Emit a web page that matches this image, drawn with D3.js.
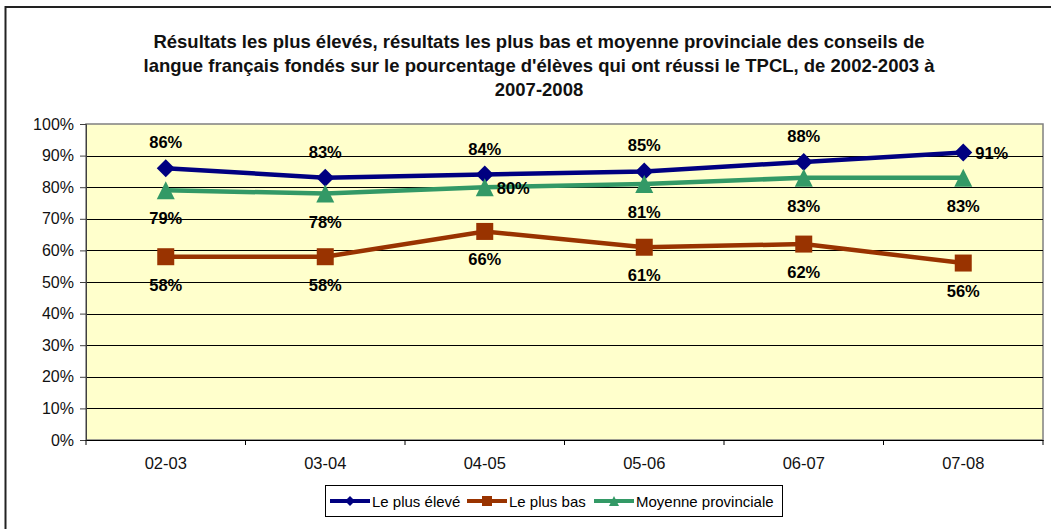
<!DOCTYPE html>
<html>
<head>
<meta charset="utf-8">
<script src="https://cdn.jsdelivr.net/npm/d3@7"></script>
<style>
  body { margin: 0; background: #fff; }
  text { font-family: Arial, "Liberation Sans", sans-serif; }
</style>
</head>
<body>
<svg id="grafico"></svg>
<script>
// Données
var categories = ['02-03', '03-04', '04-05', '05-06', '06-07', '07-08'];
var plusEleve = [86, 83, 84, 85, 88, 91];
var plusBas = [58, 58, 66, 61, 62, 56];
var moyenne = [79, 78, 80, 81, 83, 83];
var graduations = [0, 10, 20, 30, 40, 50, 60, 70, 80, 90, 100];
// position de l'étiquette de chaque point
var posEleve = ['haut', 'haut', 'haut', 'haut', 'haut', 'droite'];
var posBas = ['bas', 'bas', 'bas', 'bas', 'bas', 'bas'];
var posMoyenne = ['bas', 'bas', 'droite', 'bas', 'bas', 'bas'];

var titre = [
  'Résultats les plus élevés, résultats les plus bas et moyenne provinciale des conseils de',
  'langue français fondés sur le pourcentage d\'élèves qui ont réussi le TPCL, de 2002-2003 à',
  '2007-2008'
];

// Marques (losange, carré, triangle) dessinées pour une taille donnée
function losange(t) { var r = t / 2; return 'M0,' + (-r) + 'L' + r + ',0L0,' + r + 'L' + (-r) + ',0Z'; }
function carre(t) { var r = t / 2; return 'M' + (-r) + ',' + (-r) + 'H' + r + 'V' + r + 'H' + (-r) + 'Z'; }
function triangle(t) { var r = t / 2; return 'M0,' + (-r) + 'L' + r + ',' + r + 'H' + (-r) + 'Z'; }

var series = [
  { nom: 'Le plus élevé', valeurs: plusEleve, pos: posEleve, couleur: '#000080', marque: losange, taille: 18 },
  { nom: 'Le plus bas', valeurs: plusBas, pos: posBas, couleur: '#993300', marque: carre, taille: 17 },
  { nom: 'Moyenne provinciale', valeurs: moyenne, pos: posMoyenne, couleur: '#339966', marque: triangle, taille: 18 }
];

var largeur = 1051, hauteur = 529;
var svg = d3.select('#grafico').attr('width', largeur).attr('height', hauteur);

// Cadre extérieur
svg.append('rect')
   .attr('x', 5.5).attr('y', 7)
   .attr('width', 1100).attr('height', 600)
   .attr('fill', 'none').attr('stroke', '#222').attr('stroke-width', 2);

// Titre
svg.append('clipPath').attr('id', 'clipTitre')
   .append('rect').attr('x', 0).attr('y', 0).attr('width', 946).attr('height', 110);
svg.append('g').attr('clip-path', 'url(#clipTitre)')
   .selectAll('text').data(titre).enter()
   .append('text')
   .attr('x', 539)
   .attr('y', (d, i) => 48 + i * 24)
   .attr('text-anchor', 'middle')
   .style('font-size', '18.5px')
   .style('font-weight', 'bold')
   .attr('fill', '#111')
   .text(d => d);

// Zone de tracé
var margem = { gauche: 86, droite: 8, haut: 124, bas: 89 };
var lp = largeur - margem.gauche - margem.droite;
var hp = hauteur - margem.haut - margem.bas;

var trace = svg.append('g')
   .attr('transform', 'translate(' + margem.gauche + ',' + margem.haut + ')');

var x = d3.scaleBand().domain(categories).range([0, lp]);
var y = d3.scaleLinear().domain([0, 100]).range([hp, 0]);

trace.append('rect')
   .attr('width', lp).attr('height', hp)
   .attr('fill', '#FFFFCC').attr('stroke', '#808080').attr('stroke-width', 1.5);

// Lignes de grille
trace.append('g')
   .selectAll('line').data(graduations.slice(1, -1)).enter()
   .append('line')
   .attr('x1', 0).attr('x2', lp)
   .attr('y1', d => Math.round(y(d)) + 0.5).attr('y2', d => Math.round(y(d)) + 0.5)
   .attr('stroke', '#000').attr('stroke-width', 1);

// Axes
var axeY = d3.axisLeft(y).tickValues(graduations).tickSize(6).tickPadding(6).tickFormat(d => d + '%');
var gY = trace.append('g').call(axeY);
gY.select('.domain').attr('stroke', '#404040');
gY.selectAll('line').attr('stroke', '#404040');
gY.selectAll('text').style('font-size', '16px').attr('fill', '#111');

var axeX = d3.axisBottom(x).tickSize(0).tickPadding(17);
var gX = trace.append('g').attr('transform', 'translate(0,' + hp + ')').call(axeX);
gX.select('.domain').attr('stroke', '#000');
gX.selectAll('text').style('font-size', '16.5px').attr('fill', '#111');
// graduations entre les catégories
gX.selectAll('.sep').data(d3.range(categories.length + 1)).enter()
   .append('line').attr('class', 'sep')
   .attr('x1', i => i * x.step()).attr('x2', i => i * x.step())
   .attr('y1', 0).attr('y2', 5)
   .attr('stroke', '#000');

var cx = d => x(d) + x.bandwidth() / 2;

// Séries
series.forEach(function(s) {
  var points = categories.map((c, i) => ({ c: c, v: s.valeurs[i], pos: s.pos[i] }));
  trace.append('path')
     .datum(points)
     .attr('fill', 'none')
     .attr('stroke', s.couleur)
     .attr('stroke-width', 4.5)
     .attr('d', d3.line().x(d => cx(d.c)).y(d => y(d.v)));
  trace.selectAll(null).data(points).enter()
     .append('path')
     .attr('transform', d => 'translate(' + cx(d.c) + ',' + y(d.v) + ')')
     .attr('d', s.marque(s.taille))
     .attr('fill', s.couleur);
});

// Étiquettes
series.forEach(function(s) {
  var points = categories.map((c, i) => ({ c: c, v: s.valeurs[i], pos: s.pos[i] }));
  trace.selectAll(null).data(points).enter()
     .append('text')
     .attr('x', d => d.pos === 'droite' ? cx(d.c) + 12 : cx(d.c))
     .attr('y', d => d.pos === 'haut' ? y(d.v) - 26 : d.pos === 'bas' ? y(d.v) + 28 : y(d.v) + 1)
     .attr('text-anchor', d => d.pos === 'droite' ? 'start' : 'middle')
     .attr('dominant-baseline', 'central')
     .style('font-size', '16.5px')
     .style('font-weight', 'bold')
     .attr('fill', '#000')
     .text(d => d.v + '%');
});

// Légende
var legende = svg.append('g').attr('transform', 'translate(325,485)');
legende.append('rect')
   .attr('x', 0.5).attr('y', 0.5).attr('width', 457).attr('height', 31)
   .attr('fill', '#fff').attr('stroke', '#000');
var posLeg = [5, 142, 269];
series.forEach(function(s, i) {
  var g = legende.append('g').attr('transform', 'translate(' + posLeg[i] + ',16)');
  g.append('line').attr('x1', 0).attr('x2', 40).attr('y1', 0).attr('y2', 0)
   .attr('stroke', s.couleur).attr('stroke-width', 4);
  g.append('path').attr('transform', 'translate(20,0)')
   .attr('d', s.marque(10))
   .attr('fill', s.couleur);
  g.append('text').attr('x', 42).attr('y', 0)
   .attr('dominant-baseline', 'central')
   .style('font-size', '15px')
   .attr('fill', '#000')
   .text(s.nom);
});
</script>
</body>
</html>
